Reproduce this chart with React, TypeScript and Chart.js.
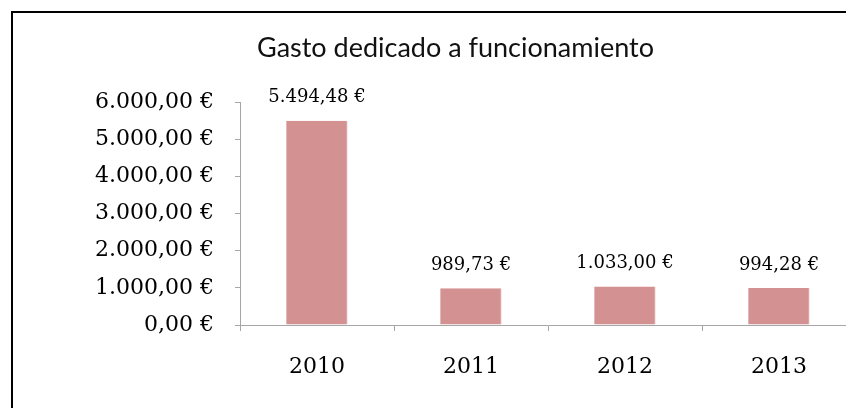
import React, { useEffect, useRef } from "react";
import { Chart, registerables } from "chart.js";

Chart.register(...registerables);

const categories = ["2010", "2011", "2012", "2013"];
const values = [5494.48, 989.73, 1033.0, 994.28];
const yTicks = [0, 1000, 2000, 3000, 4000, 5000, 6000];
const titleText = "Gasto dedicado a funcionamiento";

const fmt = (v: number) => {
  const fixed = v.toFixed(2);
  const [intPart, dec] = fixed.split(".");
  const withDots = intPart.replace(/\B(?=(\d{3})+(?!\d))/g, ".");
  return `${withDots},${dec} €`;
};

const CW = 843;
const CH = 417;
const AXIS = "#a6a6a6";

const labelsPlugin = {
  id: "barLabels",
  afterDatasetsDraw(chart: any) {
    const ctx = chart.ctx;
    const meta = chart.getDatasetMeta(0);
    ctx.save();
    ctx.fillStyle = "#000";
    ctx.font = "18px 'DejaVu Serif'";
    ctx.textAlign = "center";
    ctx.textBaseline = "middle";
    meta.data.forEach((el: any, i: number) => {
      ctx.fillText(fmt(values[i]), el.x, el.y - 23);
    });
    ctx.restore();
  },
};

export default function App() {
  const ref = useRef<HTMLCanvasElement | null>(null);
  useEffect(() => {
    if (!ref.current) return;
    const chart = new Chart(ref.current, {
      type: "bar",
      data: {
        labels: categories,
        datasets: [
          {
            data: values,
            backgroundColor: "#d39191",
            borderColor: "#f3dcdc",
            borderWidth: { right: 1 } as any,
            categoryPercentage: 1,
            barPercentage: 0.4,
          },
        ],
      },
      options: {
        animation: false,
        responsive: false,
        devicePixelRatio: 1,
        layout: { padding: { left: 42, right: 0, top: 0, bottom: 417 - 312 - 70 } },
        plugins: {
          legend: { display: false },
          tooltip: { enabled: false },
          title: {
            display: true,
            text: titleText,
            color: "#111",
            font: { family: "Lato", size: 27, weight: "normal" as any, lineHeight: 1.2 },
            padding: { top: 19, bottom: 37.6 },
          },
        },
        scales: {
          x: {
            afterFit: (s: any) => {
              s.height = 70;
            },
            grid: {
              display: true,
              offset: true,
              drawOnChartArea: false,
              drawTicks: true,
              tickLength: 6,
              color: AXIS,
            },
            border: { display: true, color: AXIS, width: 1 },
            ticks: {
              color: "#000",
              padding: 23,
              font: { family: "DejaVu Serif", size: 22 },
            },
          },
          y: {
            min: 0,
            max: 6000,
            afterFit: (s: any) => {
              s.width = 185;
            },
            afterBuildTicks: (s: any) => {
              s.ticks = yTicks.map((v) => ({ value: v }));
            },
            grid: {
              display: true,
              drawOnChartArea: false,
              drawTicks: true,
              tickLength: 5,
              color: AXIS,
            },
            border: { display: true, color: AXIS, width: 1 },
            ticks: {
              color: "#000",
              padding: 21,
              font: { family: "DejaVu Serif", size: 22 },
              callback: (v: any) => fmt(Number(v)),
            },
          },
        },
      },
      plugins: [labelsPlugin],
    });
    return () => chart.destroy();
  }, []);

  return (
    <div
      style={{
        position: "fixed",
        left: 0,
        top: 0,
        width: 846,
        height: 408,
        overflow: "hidden",
        background: "#fff",
      }}
    >
      <div
        style={{
          position: "absolute",
          left: 11,
          top: 11,
          width: CW,
          height: CH,
          borderLeft: "2px solid #000",
          borderTop: "2px solid #000",
          background: "#fff",
        }}
      >
        <canvas ref={ref} width={CW} height={CH} style={{ display: "block", width: CW, height: CH }} />
      </div>
    </div>
  );
}
